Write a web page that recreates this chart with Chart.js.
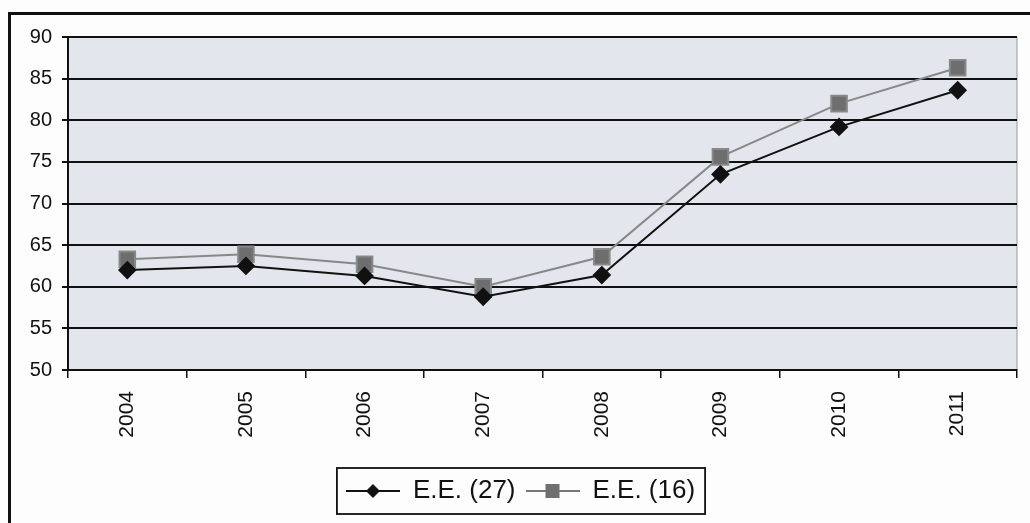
<!DOCTYPE html>
<html>
<head>
<meta charset="utf-8">
<script src="https://cdn.jsdelivr.net/npm/chart.js@4/dist/chart.umd.min.js"></script>
<style>
  body { margin: 0; background: #fdfdfd; }
  #frame { position: absolute; left: 8px; top: 12px; width: 1040px; height: 540px;
           border-left: 3px solid #111; border-top: 3px solid #111; }
  #wrap { position: absolute; left: 0; top: 0; width: 1030px; height: 523px; }
</style>
</head>
<body>
<div id="frame"></div>
<div id="wrap"><canvas id="chart"></canvas></div>
<script>
// Datos
const years = ["2004", "2005", "2006", "2007", "2008", "2009", "2010", "2011"];
const ee27 = [62.0, 62.5, 61.3, 58.8, 61.4, 73.5, 79.2, 83.6];
const ee16 = [63.3, 63.9, 62.7, 60.0, 63.6, 75.6, 82.0, 86.3];
const yTicks = [50, 55, 60, 65, 70, 75, 80, 85, 90];

// iconos de leyenda (línea + marcador)
function legendIcon(kind) {
    const c = document.createElement("canvas");
    c.width = 54; c.height = 18;
    const g = c.getContext("2d");
    g.strokeStyle = kind === "diamond" ? "#111" : "#777";
    g.lineWidth = 1.8;
    g.beginPath(); g.moveTo(0, 9); g.lineTo(54, 9); g.stroke();
    if (kind === "diamond") {
        g.fillStyle = "#111";
        g.beginPath(); g.moveTo(27, 2); g.lineTo(34, 9); g.lineTo(27, 16); g.lineTo(20, 9); g.closePath(); g.fill();
    } else {
        g.fillStyle = "#6f6f6f";
        g.fillRect(20, 2, 14, 14);
    }
    return c;
}

// fondo del área de trazado y recuadro de la leyenda
const extras = {
    id: "extras",
    beforeDraw(chart) {
        const { ctx, chartArea: a } = chart;
        ctx.save();
        ctx.fillStyle = "#e4e6ed";
        ctx.fillRect(a.left, a.top, a.right - a.left, a.bottom - a.top);
        ctx.strokeStyle = "#999";
        ctx.lineWidth = 1;
        ctx.strokeRect(a.left, a.top, a.right - a.left, a.bottom - a.top);
        ctx.restore();
    },
    afterDraw(chart) {
        const boxes = chart.legend.legendHitBoxes;
        if (!boxes || !boxes.length) return;
        const ctx = chart.ctx;
        const last = boxes[boxes.length - 1];
        const x0 = boxes[0].left - 9, x1 = last.left + last.width + 10;
        const y0 = boxes[0].top - 10, y1 = boxes[0].top + boxes[0].height + 10;
        ctx.save();
        ctx.strokeStyle = "#111";
        ctx.lineWidth = 1.8;
        ctx.strokeRect(x0, y0, x1 - x0, y1 - y0);
        ctx.restore();
    }
};

const ctx = document.getElementById("chart").getContext("2d");
new Chart(ctx, {
    type: "line",
    data: {
        labels: years,
        datasets: [
            {
                label: "E.E. (27)",
                data: ee27,
                borderColor: "#111",
                backgroundColor: "#111",
                borderWidth: 2,
                pointStyle: "rectRot",
                pointRadius: 8,
                pointIconStyle: legendIcon("diamond"),
                tension: 0,
            },
            {
                label: "E.E. (16)",
                data: ee16,
                borderColor: "#888",
                backgroundColor: "#6e6e6e",
                borderWidth: 2,
                pointStyle: "rect",
                pointRadius: 11,
                pointIconStyle: legendIcon("square"),
                tension: 0,
            },
        ],
    },
    options: {
        responsive: true,
        maintainAspectRatio: false,
        animation: false,
        layout: { padding: { left: 24, right: 13, top: 37, bottom: 9 } },
        plugins: {
            tooltip: { enabled: false },
            legend: {
                position: "bottom",
                labels: {
                    color: "#111",
                    font: { family: "Liberation Sans, Arial", size: 26 },
                    usePointStyle: true,
                    pointStyleWidth: 54,
                    padding: 10,
                    generateLabels(chart) {
                        return chart.data.datasets.map((ds, i) => ({
                            text: ds.label,
                            pointStyle: ds.pointIconStyle,
                            fillStyle: ds.backgroundColor,
                            strokeStyle: ds.borderColor,
                            lineWidth: 0,
                            datasetIndex: i,
                            fontColor: "#111",
                        }));
                    },
                },
            },
        },
        scales: {
            x: {
                offset: true,
                afterFit(axis) { axis.height = 98; },
                border: { color: "#111", width: 2 },
                grid: { offset: true, drawOnChartArea: false, drawTicks: true, tickLength: 8, color: "#111", lineWidth: 1.5 },
                ticks: {
                    color: "#111",
                    font: { family: "Liberation Sans, Arial", size: 21 },
                    minRotation: 90, maxRotation: 90,
                    padding: 13,
                },
            },
            y: {
                min: 50, max: 90,
                border: { color: "#111", width: 2 },
                afterBuildTicks(axis) { axis.ticks = yTicks.map(v => ({ value: v })); },
                afterFit(axis) { axis.width = 44; },
                grid: { color: "#111", lineWidth: 2, tickLength: 6 },
                ticks: {
                    color: "#111",
                    font: { family: "Liberation Sans, Arial", size: 20 },
                    padding: 10,
                },
            },
        },
    },
    plugins: [extras],
});
</script>
</body>
</html>
